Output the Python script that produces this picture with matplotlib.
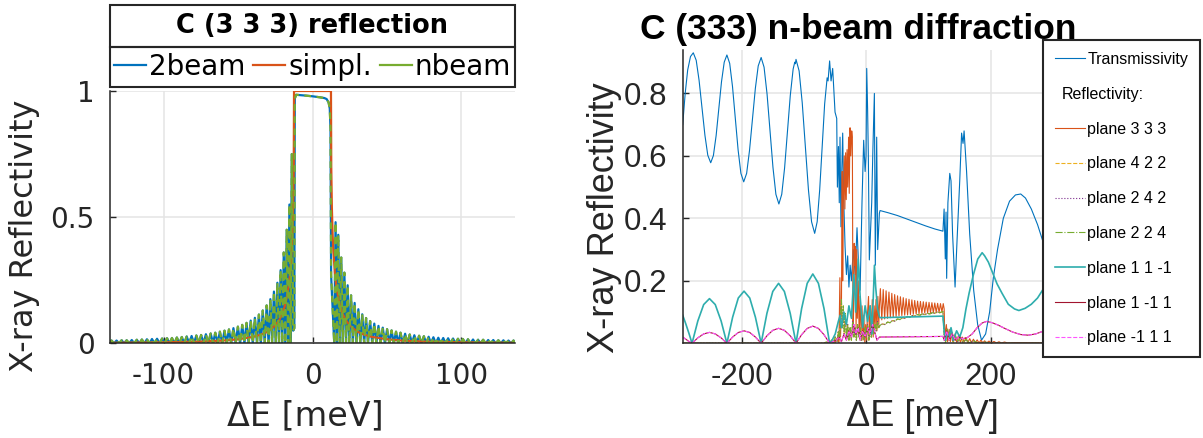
import matplotlib
matplotlib.use("Agg")
import matplotlib.pyplot as plt
from matplotlib.lines import Line2D
from matplotlib.patches import Rectangle

plt.rcParams['axes.unicode_minus'] = False

# ---------------- C (3 3 3) reflection : 2-beam / simplified / n-beam ----------------
beam2_e = [
    -136.0, -135.0, -133.3, -131.6, -129.9, -128.2, -126.5, -124.8, -123.1, -121.4,
    -119.7, -118.0, -116.3, -114.6, -112.9, -111.2, -109.5, -107.8, -106.1, -104.4,
    -102.7, -101.0, -99.3, -97.7, -96.0, -94.4, -92.7, -91.1, -89.4, -87.8,
    -86.1, -84.5, -82.8, -81.2, -79.6, -78.0, -76.4, -74.8, -73.2, -71.6,
    -70.0, -68.4, -66.8, -65.3, -63.7, -62.2, -60.6, -59.1, -57.6, -56.1,
    -54.6, -53.1, -51.6, -50.1, -48.6, -47.2, -45.7, -44.3, -42.9, -41.5,
    -40.1, -38.7, -37.3, -36.0, -34.7, -33.4, -32.1, -30.8, -29.5, -28.3,
    -27.1, -25.9, -24.7, -23.6, -22.5, -21.4, -20.3, -19.3, -18.3, -17.3,
    -16.4, -15.5, -14.7, -13.9, -13.0, -12.2, -11.9, -11.0, -5.0, 0.0,
    5.0, 8.0, 9.5, 10.8, 11.6, 12.1, 12.5, 14.6, 15.5, 16.4,
    17.3, 18.3, 19.3, 20.3, 21.4, 22.5, 23.6, 24.7, 25.9, 27.1,
    28.3, 29.5, 30.8, 32.1, 33.4, 34.7, 36.0, 37.3, 38.7, 40.1,
    41.5, 42.9, 44.3, 45.7, 47.2, 48.6, 50.1, 51.6, 53.1, 54.6,
    56.1, 57.6, 59.1, 60.6, 62.2, 63.7, 65.3, 66.8, 68.4, 70.0,
    71.6, 73.2, 74.8, 76.4, 78.0, 79.6, 81.2, 82.8, 84.5, 86.1,
    87.8, 89.4, 91.1, 92.7, 94.4, 96.0, 97.7, 99.3, 101.0, 102.7,
    104.4, 106.1, 107.8, 109.5, 111.2, 112.9, 114.6, 116.3, 118.0, 119.7,
    121.4, 123.1, 124.8, 126.5, 128.2, 129.9, 131.6, 133.3, 135.0, 136.0,
]
beam2_r = [
    0.0, 0.011, 0.0, 0.011, 0.0, 0.012, 0.0, 0.012, 0.0, 0.013,
    0.0, 0.014, 0.0, 0.015, 0.0, 0.016, 0.0, 0.017, 0.0, 0.018,
    0.0, 0.019, 0.0, 0.020, 0.0, 0.021, 0.0, 0.023, 0.0, 0.025,
    0.0, 0.027, 0.0, 0.029, 0.0, 0.031, 0.0, 0.033, 0.0, 0.036,
    0.0, 0.039, 0.0, 0.042, 0.0, 0.046, 0.0, 0.050, 0.0, 0.055,
    0.0, 0.060, 0.0, 0.066, 0.0, 0.073, 0.0, 0.081, 0.0, 0.090,
    0.0, 0.101, 0.0, 0.114, 0.0, 0.130, 0.0, 0.150, 0.0, 0.175,
    0.0, 0.205, 0.0, 0.240, 0.0, 0.290, 0.0, 0.360, 0.0, 0.450,
    0.0, 0.550, 0.0, 0.750, 0.050, 0.060, 0.970, 0.985, 0.982, 0.979,
    0.975, 0.972, 0.968, 0.955, 0.930, 0.850, 0.270, 0.0, 0.480, 0.0,
    0.430, 0.0, 0.340, 0.0, 0.280, 0.0, 0.230, 0.0, 0.190, 0.0,
    0.160, 0.0, 0.135, 0.0, 0.115, 0.0, 0.100, 0.0, 0.088, 0.0,
    0.078, 0.0, 0.069, 0.0, 0.062, 0.0, 0.056, 0.0, 0.051, 0.0,
    0.046, 0.0, 0.042, 0.0, 0.038, 0.0, 0.035, 0.0, 0.032, 0.0,
    0.030, 0.0, 0.028, 0.0, 0.026, 0.0, 0.024, 0.0, 0.022, 0.0,
    0.021, 0.0, 0.020, 0.0, 0.019, 0.0, 0.018, 0.0, 0.017, 0.0,
    0.016, 0.0, 0.015, 0.0, 0.014, 0.0, 0.014, 0.0, 0.013, 0.0,
    0.013, 0.0, 0.012, 0.0, 0.012, 0.0, 0.011, 0.0, 0.011, 0.0,
]
# n-beam result sits on top of the 2-beam curve
nbeam_r = [
    0.0, 0.011, 0.0, 0.011, 0.0, 0.012, 0.0, 0.012, 0.0, 0.013,
    0.0, 0.014, 0.0, 0.015, 0.0, 0.016, 0.0, 0.017, 0.0, 0.018,
    0.0, 0.019, 0.0, 0.020, 0.0, 0.021, 0.0, 0.023, 0.0, 0.025,
    0.0, 0.027, 0.0, 0.029, 0.0, 0.031, 0.0, 0.033, 0.0, 0.036,
    0.0, 0.039, 0.0, 0.042, 0.0, 0.046, 0.0, 0.050, 0.0, 0.055,
    0.0, 0.060, 0.0, 0.066, 0.0, 0.073, 0.0, 0.081, 0.0, 0.090,
    0.0, 0.101, 0.0, 0.114, 0.0, 0.130, 0.0, 0.150, 0.0, 0.175,
    0.0, 0.205, 0.0, 0.240, 0.0, 0.290, 0.0, 0.360, 0.0, 0.450,
    0.0, 0.550, 0.0, 0.750, 0.050, 0.060, 0.970, 0.985, 0.982, 0.979,
    0.975, 0.972, 0.968, 0.955, 0.930, 0.850, 0.270, 0.0, 0.480, 0.0,
    0.430, 0.0, 0.340, 0.0, 0.280, 0.0, 0.230, 0.0, 0.190, 0.0,
    0.160, 0.0, 0.135, 0.0, 0.115, 0.0, 0.100, 0.0, 0.088, 0.0,
    0.078, 0.0, 0.069, 0.0, 0.062, 0.0, 0.056, 0.0, 0.051, 0.0,
    0.046, 0.0, 0.042, 0.0, 0.038, 0.0, 0.035, 0.0, 0.032, 0.0,
    0.030, 0.0, 0.028, 0.0, 0.026, 0.0, 0.024, 0.0, 0.022, 0.0,
    0.021, 0.0, 0.020, 0.0, 0.019, 0.0, 0.018, 0.0, 0.017, 0.0,
    0.016, 0.0, 0.015, 0.0, 0.014, 0.0, 0.014, 0.0, 0.013, 0.0,
    0.013, 0.0, 0.012, 0.0, 0.012, 0.0, 0.011, 0.0, 0.011, 0.0,
]
simpl_e = [-136, -100, -75, -60, -50, -40, -35, -30, -25, -22, -20, -18, -16, -15,
           -14, -13.5, -13, -12.6, -12.4, 12.4, 12.6, 13, 13.5, 14, 15, 16, 18, 20,
           22, 25, 30, 35, 40, 50, 60, 75, 100, 136]
simpl_r = [0.0021, 0.0039, 0.0069, 0.0108, 0.0159, 0.0253, 0.0335, 0.0467, 0.0707,
           0.0955, 0.1204, 0.160, 0.226, 0.280, 0.366, 0.433, 0.539, 0.699, 1.0,
           1.0, 0.699, 0.539, 0.433, 0.366, 0.280, 0.226, 0.160, 0.1204, 0.0955,
           0.0707, 0.0467, 0.0335, 0.0253, 0.0159, 0.0108, 0.0069, 0.0039, 0.0021]

# ---------------- C (333) n-beam diffraction ----------------
trans_e = [
    -295, -291, -287, -282.5, -278, -273.3, -268.7, -264, -259.3, -254.7, -250,
    -245.7, -241.3, -237, -232.7, -228.3, -224, -219.5, -215, -210.5, -206, -201.5, -197,
    -192.3, -187.7, -183, -178.3, -173.7, -169, -164.3, -159.5, -154.8, -150, -145.3, -140.5,
    -135.9, -131.3, -126.8, -122.2, -117.6, -115, -114, -113, -108, -103, -98, -93, -88, -83,
    -79, -75, -71, -67, -63, -61.5, -59,
    -56.7, -54.1, -52, -50.3, -47.6, -46.5, -44.8, -43.5, -42.3, -40.8, -39.5, -38,
    -36.5, -34.2, -32, -30, -28, -26, -24, -21, -18, -15, -12.5, -10, -7, -4.3, -2,
    -0.5, 0.6, 2, 3.2, 4.8, 6.5, 8.6, 10.5, 12.9, 14.4, 16.6, 18.2, 20.9, 22, 35, 50,
    65, 80, 95, 110, 123, 124.9, 126.8, 128, 129, 131, 134, 136, 138.5, 142.5, 145.7,
    150, 153, 155.3, 157, 161, 166, 172.4, 178.8, 185, 191.6, 198, 204, 210.7, 220,
    230, 239.5, 248, 255.6, 265, 275, 283, 295,
]
trans_t = [
    0.70, 0.80, 0.875, 0.918, 0.93, 0.906, 0.842, 0.754, 0.666, 0.602, 0.578,
    0.601, 0.665, 0.751, 0.837, 0.900, 0.923, 0.896, 0.822, 0.720, 0.619, 0.544, 0.517,
    0.544, 0.617, 0.716, 0.816, 0.888, 0.915, 0.884, 0.798, 0.681, 0.563, 0.477, 0.446,
    0.477, 0.562, 0.678, 0.793, 0.878, 0.900, 0.895, 0.909, 0.872, 0.770, 0.631, 0.491, 0.389, 0.352,
    0.389, 0.490, 0.628, 0.766, 0.850, 0.840, 0.904,
    0.84, 0.88, 0.80, 0.74, 0.72, 0.50, 0.63, 0.45, 0.66, 0.373, 0.55, 0.673,
    0.47, 0.31, 0.22, 0.28, 0.18, 0.25, 0.20, 0.30, 0.22, 0.37, 0.25, 0.17, 0.45, 0.65, 0.55,
    0.60, 0.88, 0.75, 0.60, 0.267, 0.35, 0.45, 0.62, 0.80, 0.25, 0.66, 0.30, 0.416, 0.425, 0.418, 0.409,
    0.398, 0.387, 0.376, 0.366, 0.359, 0.43, 0.27, 0.42, 0.208, 0.45, 0.544, 0.52, 0.35, 0.18, 0.33,
    0.52, 0.673, 0.64, 0.68, 0.55, 0.35, 0.17, 0.06, 0.01, 0.03, 0.10, 0.21, 0.30, 0.40,
    0.455, 0.475, 0.478, 0.465, 0.43, 0.38, 0.33, 0.27,
]

r333_e = [
    -295, -60, -50, -46, -44, -42.5, -41.5, -40, -38.8, -38, -37, -35.5, -34.5, -33.3,
    -32.3, -31, -30, -28.5, -27.5, -26.2, -25, -23.5, -22.5, -21.5, -20.5, -19.5, -18.5,
    -17.5, -16.5, -15.5, -14.5, -13, -11.5, -10, -8.5, -7, -5.5, -4, -2.5, -1, 0.5, 2,
    3.5, 5, 6.5, 8, 9.5, 11, 12.5, 14, 15.5, 17, 18.5, 20,
    21.0, 22.5, 24.8, 27.1, 29.4, 31.7, 34.0, 36.3, 38.6, 40.9, 43.2, 45.5, 47.8, 50.1,
    52.4, 54.7, 57.0, 59.3, 61.6, 63.9, 66.2, 68.5, 70.8, 73.1, 75.4, 77.7, 80.0, 82.3,
    84.6, 86.9, 89.2, 91.5, 93.8, 96.1, 98.4, 100.7, 103.0, 105.3, 107.6, 109.9, 112.2,
    114.5, 116.8, 119.1, 121.4, 123.5,
    125, 126, 128.5, 130.5, 133, 135, 137.5, 140, 142.5, 145, 148, 151, 154, 157, 160,
    163, 166, 169, 172, 175, 178, 181, 184, 187, 190, 193, 197, 201, 205, 209, 213, 217,
    222, 227, 240, 295,
]
r333_r = [
    0.0, 0.0, 0.002, 0.02, 0.0, 0.21, 0.02, 0.12, 0.55, 0.20, 0.45, 0.60, 0.43, 0.61,
    0.46, 0.62, 0.50, 0.66, 0.48, 0.69, 0.60, 0.68, 0.66, 0.05, 0.10, 0.32, 0.25,
    0.31, 0.05, 0.30, 0.08, 0.20, 0.02, 0.15, 0.03, 0.12, 0.01, 0.09, 0.0, 0.06, 0.01, 0.10,
    0.15, 0.02, 0.12, 0.03, 0.14, 0.02, 0.12, 0.05, 0.14, 0.04, 0.15, 0.06,
    0.12, 0.175, 0.075, 0.172, 0.078, 0.168, 0.080, 0.164, 0.082, 0.160, 0.084, 0.156, 0.086, 0.152,
    0.088, 0.149, 0.089, 0.146, 0.090, 0.143, 0.091, 0.141, 0.092, 0.139, 0.093, 0.137, 0.094, 0.135,
    0.095, 0.134, 0.096, 0.133, 0.097, 0.132, 0.097, 0.131, 0.098, 0.130, 0.098, 0.129, 0.099,
    0.128, 0.099, 0.127, 0.100, 0.127,
    0.11, 0.02, 0.06, 0.005, 0.045, 0.005, 0.035, 0.004, 0.03, 0.003, 0.025, 0.003, 0.02, 0.003, 0.018,
    0.002, 0.015, 0.002, 0.013, 0.002, 0.011, 0.001, 0.010, 0.001, 0.008, 0.001, 0.007, 0.001, 0.006, 0.001, 0.005, 0.001,
    0.004, 0.001, 0.002, 0.001,
]

# the three symmetry-equivalent weak planes share one energy grid
weak_e = [
    -295, -70, -64, -60, -56, -53, -50, -47, -45, -43, -41.5, -40, -38.5, -37, -35.5,
    -34, -32, -30, -28, -26, -24, -22, -20, -18, -16, -14, -12, -10, -8, -6, -4, -2,
    0, 2, 4, 6, 8, 10, 12, 14, 16, 18, 20, 22, 26, 30, 34, 38, 42, 46, 50, 54, 58, 62,
    66, 70, 74, 78, 82, 86, 90, 94, 98, 102, 106, 110, 114, 118, 123, 125, 127, 130,
    133, 136, 139, 143, 147, 151, 155, 160, 165, 172, 180, 190, 200, 295,
]
r422_r = [
    0.0, 0.0, 0.004, 0.0, 0.01, 0.002, 0.02, 0.005, 0.04, 0.01, 0.09, 0.13, 0.05, 0.11, 0.03,
    0.09, 0.02, 0.06, 0.01, 0.05, 0.01, 0.07, 0.02, 0.05, 0.01, 0.06, 0.02, 0.05, 0.01, 0.04, 0.01, 0.05,
    0.02, 0.06, 0.01, 0.05, 0.02, 0.07, 0.03, 0.06, 0.04, 0.07, 0.05, 0.058, 0.062, 0.060, 0.068, 0.066, 0.073, 0.071, 0.078, 0.076, 0.082, 0.080,
    0.086, 0.084, 0.089, 0.087, 0.092, 0.090, 0.094, 0.092, 0.096, 0.094, 0.098, 0.096, 0.100, 0.098, 0.102, 0.03, 0.0, 0.045,
    0.01, 0.035, 0.005, 0.025, 0.004, 0.02, 0.003, 0.012, 0.002, 0.008, 0.001, 0.004, 0.0, 0.0,
]
r242_r = [
    0.0, 0.0, 0.004, 0.0, 0.01, 0.002, 0.02, 0.005, 0.04, 0.01, 0.09, 0.13, 0.05, 0.11, 0.03,
    0.09, 0.02, 0.06, 0.01, 0.05, 0.01, 0.07, 0.02, 0.05, 0.01, 0.06, 0.02, 0.05, 0.01, 0.04, 0.01, 0.05,
    0.02, 0.06, 0.01, 0.05, 0.02, 0.07, 0.03, 0.06, 0.04, 0.07, 0.05, 0.058, 0.062, 0.060, 0.068, 0.066, 0.073, 0.071, 0.078, 0.076, 0.082, 0.080,
    0.086, 0.084, 0.089, 0.087, 0.092, 0.090, 0.094, 0.092, 0.096, 0.094, 0.098, 0.096, 0.100, 0.098, 0.102, 0.03, 0.0, 0.045,
    0.01, 0.035, 0.005, 0.025, 0.004, 0.02, 0.003, 0.012, 0.002, 0.008, 0.001, 0.004, 0.0, 0.0,
]
r224_r = [
    0.0, 0.0, 0.004, 0.0, 0.01, 0.002, 0.02, 0.005, 0.04, 0.01, 0.09, 0.14, 0.05, 0.12, 0.03,
    0.10, 0.02, 0.06, 0.01, 0.05, 0.01, 0.07, 0.02, 0.05, 0.01, 0.06, 0.02, 0.05, 0.01, 0.04, 0.01, 0.05,
    0.02, 0.06, 0.01, 0.05, 0.02, 0.07, 0.03, 0.06, 0.04, 0.07, 0.05, 0.058, 0.062, 0.060, 0.068, 0.066, 0.073, 0.071, 0.078, 0.076, 0.082, 0.080,
    0.086, 0.084, 0.089, 0.087, 0.092, 0.090, 0.094, 0.092, 0.096, 0.094, 0.098, 0.096, 0.100, 0.098, 0.102, 0.03, 0.0, 0.045,
    0.01, 0.035, 0.005, 0.025, 0.004, 0.02, 0.003, 0.012, 0.002, 0.008, 0.001, 0.004, 0.0, 0.0,
]

r11m1_e = [
    -295, -290, -285, -280, -270.7, -261.3, -252, -242.7, -233.3, -224,
    -214.8, -205.7, -196.5, -187.3, -178.2, -169, -159.7, -150.3, -141, -131.7, -122.3, -113,
    -104, -95, -86, -77, -68, -59, -55, -50, -45, -42, -40, -36, -32, -28,
    -24, -20, -17, -13, -10, -6, -2, 2, 6, 9, 13, 15, 18, 21, 22, 123, 125, 127, 130,
    133, 136, 140, 145, 150, 155, 160, 165, 172, 179, 186, 190, 196, 203, 210, 218,
    228, 238, 245, 255, 265, 275, 283, 295,
]
r11m1_r = [
    0.09, 0.062, 0.032, 0.0, 0.0715, 0.124, 0.143, 0.124, 0.0715, 0.0,
    0.0835, 0.145, 0.167, 0.145, 0.0835, 0.0, 0.096, 0.166, 0.192, 0.166, 0.096, 0.0,
    0.111, 0.192, 0.222, 0.192, 0.111, 0.0, 0.01, 0.03, 0.07, 0.09, 0.05, 0.10, 0.06, 0.12,
    0.08, 0.22, 0.10, 0.27, 0.15, 0.05, 0.12, 0.07, 0.12, 0.03, 0.25, 0.18, 0.11, 0.085, 0.082, 0.087, 0.04, 0.01, 0.03,
    0.02, 0.05, 0.01, 0.04, 0.02, 0.05, 0.11, 0.16, 0.22, 0.27, 0.29, 0.28, 0.26, 0.225, 0.19, 0.16,
    0.125, 0.11, 0.105, 0.112, 0.125, 0.145, 0.17, 0.19,
]

# (1 -1 1) and (-1 1 1) are degenerate, one grid for both
r111_e = [
    -295, -290, -285, -280, -270.7, -261.3, -252, -242.7, -233.3, -224,
    -214.8, -205.7, -196.5, -187.3, -178.2, -169, -159.7, -150.3, -141, -131.7, -122.3, -113,
    -104, -95, -86, -77, -68, -59, -54, -48, -44, -40, -36, -32, -28, -24, -20, -17, -13,
    -10, -6, -2, 3, 6, 10, 13, 17, 21, 22, 123, 125, 129, 133, 138, 143, 148, 155,
    162, 170, 178, 186, 193, 202, 212, 222, 235, 248, 260, 272, 283, 295,
]
r1m11_r = [
    0.02, 0.013, 0.006, 0.0, 0.0175, 0.030, 0.035, 0.030, 0.0175, 0.0,
    0.020, 0.0346, 0.040, 0.0346, 0.020, 0.0, 0.024, 0.0416, 0.048, 0.0416, 0.024, 0.0,
    0.0275, 0.0476, 0.055, 0.0476, 0.0275, 0.0, 0.005, 0.01, 0.02, 0.005, 0.03, 0.01, 0.04, 0.02, 0.06, 0.03, 0.05,
    0.01, 0.04, 0.02, 0.05, 0.03, 0.06, 0.04, 0.01, 0.02, 0.02, 0.022, 0.01, 0.04, 0.01, 0.03, 0.01, 0.02, 0.015,
    0.018, 0.03, 0.05, 0.065, 0.07, 0.066, 0.058, 0.048, 0.036, 0.028, 0.026, 0.03, 0.038, 0.045,
]
rm111_r = [
    0.02, 0.013, 0.006, 0.0, 0.0175, 0.030, 0.035, 0.030, 0.0175, 0.0,
    0.020, 0.0346, 0.040, 0.0346, 0.020, 0.0, 0.024, 0.0416, 0.048, 0.0416, 0.024, 0.0,
    0.0275, 0.0476, 0.055, 0.0476, 0.0275, 0.0, 0.005, 0.01, 0.02, 0.005, 0.03, 0.01, 0.04, 0.02, 0.06, 0.03, 0.05,
    0.01, 0.04, 0.02, 0.05, 0.03, 0.06, 0.04, 0.01, 0.02, 0.02, 0.022, 0.01, 0.04, 0.01, 0.03, 0.01, 0.02, 0.015,
    0.018, 0.03, 0.05, 0.065, 0.07, 0.066, 0.058, 0.048, 0.036, 0.028, 0.026, 0.03, 0.038, 0.045,
]

# ---------------- figure ----------------
W, H = 1203, 438
ink = '#262626'
gridc = '#e4e4e4'
fig = plt.figure(figsize=(W / 100, H / 100), dpi=100)


def px_box(left, top, right, bottom):
    return [left / W, 1 - bottom / H, (right - left) / W, (bottom - top) / H]


def style(ax, size, family):
    for s in ('top', 'right'):
        ax.spines[s].set_visible(False)
    for s in ('left', 'bottom'):
        ax.spines[s].set_color(ink)
        ax.spines[s].set_linewidth(1.1)
    ax.tick_params(direction='in', length=4, width=1, colors=ink, labelsize=size,
                   labelfontfamily=family)
    ax.tick_params(axis='x', pad=13.5)
    ax.tick_params(axis='y', pad=11)
    ax.grid(True, color=gridc, lw=1.1)
    ax.set_axisbelow(True)


# left panel
ax1 = fig.add_axes(px_box(110, 91, 515, 343.3))
style(ax1, 20, 'DejaVu Sans')
ax1.plot(beam2_e, beam2_r, color='#0072BD', lw=1.6, label='2beam')
ax1.plot(simpl_e, simpl_r, color='#D95319', lw=1.6, label='simpl.')
ax1.plot(beam2_e, nbeam_r, color='#77AC30', lw=1.6, ls=(0, (3, 2.5)), label='nbeam')
ax1.set_xlim(-136, 136)
ax1.set_ylim(0, 1)
ax1.set_xticks([-100, 0, 100])
ax1.set_yticks([0, 0.5, 1])
ax1.set_yticklabels(['0', '0.5', '1'])

ax1.set_xlabel('ΔE [meV]', fontsize=24, color=ink)
ax1.xaxis.set_label_coords(305 / W, 1 - 416 / H, transform=fig.transFigure)
ax1.xaxis.label.set_va('center')
ax1.set_ylabel('X-ray Reflectivity', fontsize=23, color=ink)
ax1.yaxis.set_label_coords(25 / W, 1 - 236 / H, transform=fig.transFigure)
ax1.yaxis.label.set_va('center')

# boxed title + horizontal legend above the axes
for y0, h in ((1.0159, 0.1585), (1.1744, 0.1665)):
    ax1.add_patch(Rectangle((0, y0), 1, h, transform=ax1.transAxes, fill=False,
                            ec=ink, lw=1.5, clip_on=False))
ax1.text(0.5, 1.2577, 'C (3 3 3) reflection', transform=ax1.transAxes, ha='center',
         va='center', fontsize=18.5, fontweight='bold', color='black')
leg1 = ax1.legend(loc='center', bbox_to_anchor=(0.5, 1.095), ncol=3, frameon=False,
                  fontsize=20, handlelength=1.15, handletextpad=0.1, columnspacing=0.3,
                  borderpad=0, borderaxespad=0)
leg1.get_lines()[2].set_linestyle('-')

# right panel
rf = 'Liberation Sans'
ax2 = fig.add_axes(px_box(682.7, 50, 1050, 343.3))
style(ax2, 22.5, rf)
lw = 0.8
l_t, = ax2.plot(trans_e, trans_t, color='#0072BD', lw=lw, label='Transmissivity')
l1, = ax2.plot(r333_e, r333_r, color='#D95319', lw=lw, label='plane 3 3 3')
l2, = ax2.plot(weak_e, r422_r, color='#EDB120', lw=lw, ls='--', label='plane 4 2 2')
l3, = ax2.plot(weak_e, r242_r, color='#7E2F8E', lw=lw, ls=':', label='plane 2 4 2')
l4, = ax2.plot(weak_e, r224_r, color='#77AC30', lw=lw, ls='-.', label='plane 2 2 4')
l5, = ax2.plot(r11m1_e, r11m1_r, color='#2EADAD', lw=1.2, label='plane 1 1 -1')
l6, = ax2.plot(r111_e, r1m11_r, color='#A2142F', lw=lw, label='plane 1 -1 1')
l7, = ax2.plot(r111_e, rm111_r, color='#FF55FF', lw=lw, ls='--', label='plane -1 1 1')
ax2.set_xlim(-295, 295)
ax2.set_ylim(0, 0.939)
ax2.set_xticks([-200, 0, 200])
ax2.set_yticks([0.2, 0.4, 0.6, 0.8])

ax2.set_xlabel('ΔE [meV]', fontsize=26, color=ink, family=rf)
ax2.xaxis.set_label_coords(922 / W, 1 - 417 / H, transform=fig.transFigure)
ax2.xaxis.label.set_va('center')
ax2.set_ylabel('X-ray Reflectivity', fontsize=26, color=ink, family=rf)
ax2.yaxis.set_label_coords(604 / W, 1 - 218 / H, transform=fig.transFigure)
ax2.yaxis.label.set_va('center')
fig.text(858 / W, 1 - 39 / H, 'C (333) n-beam diffraction', ha='center', va='baseline',
         fontsize=25.5, fontweight='bold', family=rf)

gap = Line2D([], [], ls='none', label='Reflectivity:')
leg2 = ax2.legend(handles=[l_t, gap, l1, l2, l3, l4, l5, l6, l7], loc='upper left',
                  bbox_to_anchor=(1043 / W, 1 - 40 / H), bbox_transform=fig.transFigure,
                  prop={'family': rf, 'size': 11.5}, handlelength=1.9, handletextpad=0.12,
                  labelspacing=1.24, borderpad=0.75, borderaxespad=0, fancybox=False,
                  edgecolor=ink, framealpha=1)
leg2.get_frame().set_linewidth(1.5)
leg2.get_texts()[1].set_x(-25)

fig.savefig('out.png', dpi=100)
